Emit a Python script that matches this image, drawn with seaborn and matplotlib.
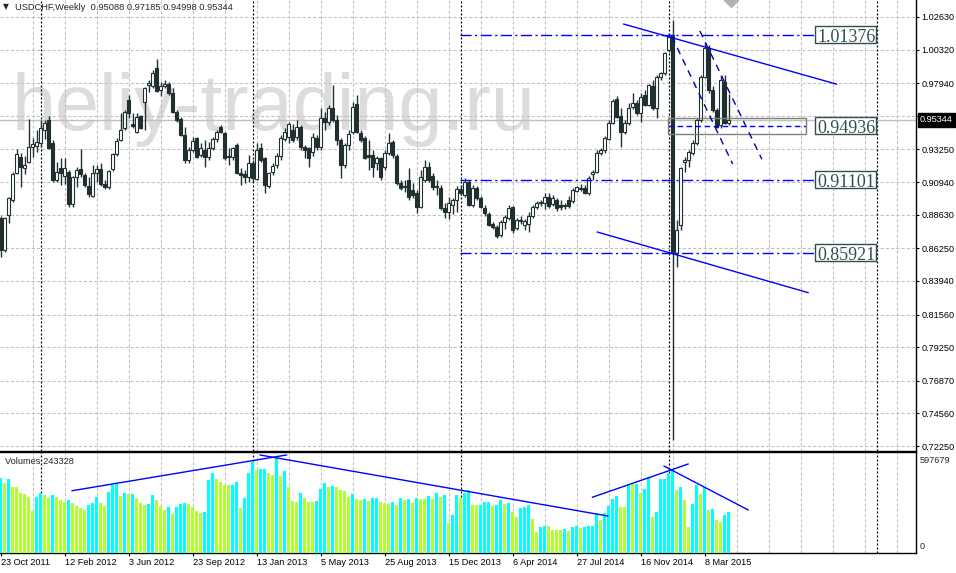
import numpy as np
import pandas as pd
import matplotlib
matplotlib.use('Agg')
import matplotlib.pyplot as plt
import seaborn as sns
from matplotlib.patches import Rectangle

sns.set_style('white')
plt.rcParams['font.family'] = ['Liberation Sans', 'DejaVu Sans']

# USDCHF weekly candles, week of 23 Oct 2011 .. week of 19 Apr 2015
opens = [
    0.8840, 0.8613, 0.8861, 0.8967, 0.9159, 0.9272, 0.9194, 0.9237, 0.9343, 0.9350,
    0.9371, 0.9463, 0.9534, 0.9371, 0.9109, 0.9194, 0.9137, 0.9166, 0.8939, 0.9130,
    0.9187, 0.9144, 0.9067, 0.8996, 0.9159, 0.9187, 0.9081, 0.9059, 0.9187, 0.9293,
    0.9392, 0.9477, 0.9675, 0.9506, 0.9449, 0.9562, 0.9661, 0.9782, 0.9775, 0.9902,
    0.9746, 0.9775, 0.9789, 0.9725, 0.9590, 0.9541, 0.9428, 0.9251, 0.9321, 0.9406,
    0.9286, 0.9321, 0.9272, 0.9336, 0.9399, 0.9484, 0.9442, 0.9272, 0.9272, 0.9357,
    0.9159, 0.9152, 0.9130, 0.9229, 0.9116, 0.9336, 0.9265, 0.9067, 0.9166, 0.9215,
    0.9279, 0.9399, 0.9413, 0.9463, 0.9413, 0.9484, 0.9343, 0.9336, 0.9307, 0.9406,
    0.9343, 0.9548, 0.9520, 0.9619, 0.9534, 0.9392, 0.9215, 0.9357, 0.9449, 0.9647,
    0.9442, 0.9406, 0.9286, 0.9286, 0.9229, 0.9265, 0.9201, 0.9300, 0.9378, 0.9279,
    0.9088, 0.9067, 0.9109, 0.9038, 0.9017, 0.8918, 0.9109, 0.9201, 0.9137, 0.9067,
    0.9052, 0.8911, 0.8882, 0.8932, 0.8967, 0.9045, 0.9003, 0.9095, 0.8932, 0.9052,
    0.8982, 0.8911, 0.8868, 0.8797, 0.8776, 0.8720, 0.8812, 0.8840, 0.8918, 0.8769,
    0.8819, 0.8790, 0.8797, 0.8854, 0.8918, 0.8946, 0.8946, 0.8989, 0.8939, 0.8967,
    0.8932, 0.8925, 0.8967, 0.8960, 0.9031, 0.9052, 0.9052, 0.9017, 0.9152, 0.9166,
    0.9300, 0.9321, 0.9399, 0.9513, 0.9682, 0.9562, 0.9449, 0.9513, 0.9626, 0.9654,
    0.9583, 0.9711, 0.9640, 0.9775, 0.9619, 0.9838, 0.9867, 1.0029, 1.0138, 0.8592,
    0.8790, 0.9237, 0.9251, 0.9300, 0.9371, 0.9534, 0.9838, 1.0044, 0.9746, 0.9605,
    0.9498, 0.9803, 0.95088]
highs = [
    0.8854, 0.8847, 0.8989, 0.9166, 0.9329, 0.9300, 0.9279, 0.9541, 0.9406, 0.9463,
    0.9534, 0.9534, 0.9562, 0.9392, 0.9237, 0.9265, 0.9265, 0.9180, 0.9137, 0.9201,
    0.9329, 0.9159, 0.9130, 0.9215, 0.9215, 0.9229, 0.9109, 0.9180, 0.9300, 0.9406,
    0.9583, 0.9605, 0.9711, 0.9583, 0.9583, 0.9569, 0.9767, 0.9817, 0.9888, 0.9966,
    0.9803, 0.9817, 0.9803, 0.9760, 0.9605, 0.9555, 0.9484, 0.9343, 0.9413, 0.9413,
    0.9371, 0.9392, 0.9378, 0.9413, 0.9463, 0.9498, 0.9449, 0.9336, 0.9343, 0.9371,
    0.9194, 0.9180, 0.9286, 0.9251, 0.9371, 0.9371, 0.9272, 0.9166, 0.9229, 0.9300,
    0.9428, 0.9477, 0.9520, 0.9506, 0.9534, 0.9498, 0.9357, 0.9343, 0.9442, 0.9428,
    0.9619, 0.9590, 0.9640, 0.9782, 0.9569, 0.9406, 0.9371, 0.9463, 0.9661, 0.9711,
    0.9463, 0.9421, 0.9392, 0.9321, 0.9279, 0.9272, 0.9321, 0.9442, 0.9392, 0.9293,
    0.9109, 0.9109, 0.9194, 0.9088, 0.9038, 0.9180, 0.9251, 0.9237, 0.9159, 0.9109,
    0.9074, 0.8946, 0.8989, 0.8982, 0.9067, 0.9074, 0.9123, 0.9109, 0.9074, 0.9067,
    0.8996, 0.8932, 0.8882, 0.8812, 0.8790, 0.8826, 0.8861, 0.8932, 0.8925, 0.8840,
    0.8854, 0.8833, 0.8882, 0.8932, 0.8960, 0.8967, 0.9017, 0.9017, 0.9003, 0.8982,
    0.8967, 0.8946, 0.8996, 0.9052, 0.9067, 0.9081, 0.9074, 0.9137, 0.9180, 0.9321,
    0.9336, 0.9421, 0.9534, 0.9682, 0.9704, 0.9619, 0.9534, 0.9654, 0.9725, 0.9675,
    0.9725, 0.9746, 0.9789, 0.9817, 0.9852, 0.9874, 1.0015, 1.0150, 1.0240, 0.8826,
    0.9201, 0.9272, 0.9321, 0.9392, 0.9548, 0.9852, 1.0079, 1.0065, 0.9775, 0.9619,
    0.9852, 0.9852, 0.97185]
lows = [
    0.8564, 0.8599, 0.8805, 0.8953, 0.9152, 0.9059, 0.9152, 0.9229, 0.9272, 0.9307,
    0.9343, 0.9399, 0.9329, 0.9095, 0.9095, 0.9074, 0.9081, 0.8918, 0.8918, 0.9059,
    0.9130, 0.9059, 0.8989, 0.8989, 0.9095, 0.9067, 0.9045, 0.9045, 0.9173, 0.9279,
    0.9385, 0.9463, 0.9548, 0.9477, 0.9442, 0.9470, 0.9463, 0.9732, 0.9760, 0.9732,
    0.9704, 0.9760, 0.9711, 0.9583, 0.9520, 0.9421, 0.9229, 0.9229, 0.9307, 0.9265,
    0.9272, 0.9201, 0.9251, 0.9321, 0.9378, 0.9442, 0.9251, 0.9215, 0.9251, 0.9152,
    0.9074, 0.9088, 0.9095, 0.9095, 0.9109, 0.9237, 0.9017, 0.9052, 0.9144, 0.9194,
    0.9251, 0.9385, 0.9371, 0.9378, 0.9392, 0.9321, 0.9265, 0.9201, 0.9279, 0.9321,
    0.9321, 0.9463, 0.9498, 0.9520, 0.9357, 0.9123, 0.9194, 0.9321, 0.9435, 0.9442,
    0.9378, 0.9258, 0.9180, 0.9130, 0.9180, 0.9109, 0.9180, 0.9286, 0.9265, 0.9074,
    0.9038, 0.9024, 0.8967, 0.8982, 0.8875, 0.8911, 0.9095, 0.9095, 0.9038, 0.9003,
    0.8897, 0.8840, 0.8833, 0.8868, 0.8882, 0.9003, 0.8989, 0.8925, 0.8918, 0.8967,
    0.8911, 0.8854, 0.8783, 0.8762, 0.8698, 0.8706, 0.8762, 0.8826, 0.8734, 0.8755,
    0.8797, 0.8755, 0.8741, 0.8840, 0.8904, 0.8925, 0.8904, 0.8911, 0.8925, 0.8890,
    0.8897, 0.8904, 0.8911, 0.8946, 0.9024, 0.9031, 0.9010, 0.9003, 0.9109, 0.9159,
    0.9286, 0.9300, 0.9392, 0.9506, 0.9548, 0.9343, 0.9435, 0.9498, 0.9612, 0.9569,
    0.9520, 0.9633, 0.9633, 0.9605, 0.9548, 0.9817, 0.9852, 1.0015, 0.7268, 0.8493,
    0.8755, 0.9166, 0.9201, 0.9286, 0.9357, 0.9520, 0.9831, 0.9725, 0.9590, 0.9477,
    0.9477, 0.9506, 0.94998]
closes = [
    0.8613, 0.8840, 0.8982, 0.9152, 0.9293, 0.9201, 0.9215, 0.9343, 0.9364, 0.9378,
    0.9477, 0.9513, 0.9336, 0.9109, 0.9166, 0.9159, 0.9194, 0.8939, 0.9130, 0.9180,
    0.9152, 0.9074, 0.9010, 0.9159, 0.9187, 0.9081, 0.9059, 0.9173, 0.9293, 0.9385,
    0.9463, 0.9590, 0.9583, 0.9491, 0.9555, 0.9477, 0.9760, 0.9796, 0.9867, 0.9739,
    0.9775, 0.9789, 0.9725, 0.9590, 0.9534, 0.9428, 0.9251, 0.9321, 0.9385, 0.9272,
    0.9336, 0.9272, 0.9336, 0.9399, 0.9449, 0.9449, 0.9265, 0.9279, 0.9336, 0.9159,
    0.9144, 0.9130, 0.9229, 0.9123, 0.9321, 0.9251, 0.9074, 0.9159, 0.9208, 0.9279,
    0.9406, 0.9449, 0.9506, 0.9392, 0.9484, 0.9343, 0.9321, 0.9265, 0.9413, 0.9343,
    0.9548, 0.9520, 0.9619, 0.9534, 0.9392, 0.9215, 0.9357, 0.9435, 0.9626, 0.9449,
    0.9392, 0.9265, 0.9272, 0.9201, 0.9265, 0.9130, 0.9300, 0.9371, 0.9286, 0.9088,
    0.9052, 0.9059, 0.8989, 0.9003, 0.8918, 0.9130, 0.9201, 0.9109, 0.9059, 0.9059,
    0.8911, 0.8882, 0.8946, 0.8967, 0.9045, 0.9017, 0.9095, 0.8932, 0.9052, 0.8982,
    0.8918, 0.8875, 0.8790, 0.8776, 0.8713, 0.8812, 0.8847, 0.8911, 0.8755, 0.8826,
    0.8826, 0.8819, 0.8854, 0.8918, 0.8946, 0.8953, 0.8989, 0.8925, 0.8982, 0.8911,
    0.8918, 0.8932, 0.8925, 0.9038, 0.9059, 0.9045, 0.9017, 0.9123, 0.9166, 0.9300,
    0.9321, 0.9406, 0.9513, 0.9668, 0.9555, 0.9449, 0.9513, 0.9619, 0.9654, 0.9583,
    0.9697, 0.9640, 0.9782, 0.9619, 0.9838, 0.9867, 1.0008, 1.0121, 0.8592, 0.8755,
    0.9194, 0.9251, 0.9307, 0.9371, 0.9534, 0.9838, 1.0044, 0.9746, 0.9605, 0.9484,
    0.9817, 0.9513, 0.95344]
volumes = [
    446000, 416000, 440000, 396000, 396000, 357000, 353000, 337000, 253000, 337000,
    361000, 347000, 327000, 347000, 333000, 317000, 307000, 317000, 297000, 281000,
    267000, 257000, 287000, 301000, 333000, 301000, 281000, 367000, 406000, 412000,
    341000, 357000, 353000, 354000, 327000, 301000, 287000, 293000, 347000, 317000,
    281000, 257000, 273000, 233000, 277000, 293000, 297000, 295000, 277000, 253000,
    241000, 247000, 436000, 476000, 440000, 426000, 406000, 404000, 408000, 422000,
    267000, 327000, 476000, 546000, 496000, 500000, 502000, 476000, 466000, 566000,
    460000, 490000, 392000, 313000, 307000, 357000, 327000, 307000, 305000, 313000,
    380000, 416000, 396000, 400000, 396000, 376000, 372000, 333000, 353000, 321000,
    317000, 321000, 313000, 327000, 328000, 307000, 301000, 293000, 307000, 287000,
    327000, 317000, 321000, 301000, 327000, 321000, 320000, 341000, 321000, 361000,
    333000, 347000, 177000, 227000, 347000, 327000, 357000, 376000, 287000, 285000,
    286000, 303000, 307000, 283000, 287000, 317000, 293000, 297000, 247000, 217000,
    267000, 277000, 287000, 201000, 127000, 157000, 161000, 160000, 137000, 137000,
    136000, 141000, 133000, 153000, 161000, 147000, 153000, 161000, 162000, 237000,
    197000, 237000, 281000, 321000, 341000, 277000, 276000, 412000, 411000, 413000,
    357000, 380000, 446000, 217000, 247000, 440000, 441000, 476000, 500000, 376000,
    396000, 317000, 153000, 293000, 406000, 351000, 396000, 257000, 261000, 197000,
    187000, 227000, 243328]

date_labels = ['23 Oct 2011', '12 Feb 2012', '3 Jun 2012', '23 Sep 2012', '13 Jan 2013',
               '5 May 2013', '25 Aug 2013', '15 Dec 2013', '6 Apr 2014', '27 Jul 2014',
               '16 Nov 2014', '8 Mar 2015']
price_ticks = [1.02630, 1.00320, 0.97940, 0.95630, 0.93250, 0.90940, 0.88630, 0.86250,
               0.83940, 0.81560, 0.79250, 0.76870, 0.74560, 0.72250]
year_starts = [10, 63, 115, 167, 219]
levels = [1.01376, 0.91101, 0.85921]
box_level = 0.94936
last_price = 0.95344
vol_max = 597679

# drawn objects (bar index, price / volume)
trend_lines = [([155.7, 209.0], [1.0213, 0.9787]), ([149.1, 201.9], [0.8741, 0.8311])]
channel_lines = [([167.8, 183.0], [1.0124, 0.9222]), ([174.8, 190.3], [1.0164, 0.9256])]
vol_lines = [([17.8, 71.5], [372000, 586000]), ([64.8, 151.8], [586000, 221000]),
             ([147.9, 171.9], [333000, 532000]), ([165.8, 186.9], [520000, 257000])]

dark = '#203030'
blue = '#0000FF'
W, H = 956, 573
px = 0.000708  # price per pixel

fig = plt.figure(figsize=(W / 100, H / 100), dpi=100)
ax = fig.add_axes([0, 1 - 450.5 / H, 916 / W, 450.5 / H])
axv = fig.add_axes([0, 1 - 553 / H, 916 / W, 101 / H])

xmin = -0.17
xmax = xmin + 916 / 4
idx = np.arange(len(closes))
o, h, l, c = map(np.array, (opens, highs, lows, closes))

grid_kw = dict(color='#C0C0C0', lw=0.75, ls=(0, (3, 2)), zorder=1)
sep_kw = dict(color='black', lw=0.9, ls=(0, (1.6, 1.6)), zorder=2)
for a in (ax, axv):
    for b in range(8, 229, 8):
        a.axvline(b, **grid_kw)
    for b in year_starts:
        a.axvline(b, **sep_kw)
for p in price_ticks:
    ax.axhline(p, **grid_kw)

# watermark
ax.text(2.8, 0.9463, 'heliy-trading.ru', fontsize=57, color='#DCDCDC',
        ha='left', va='baseline', zorder=0.5)

ax.axhline(last_price, color='#C0C0C0', lw=1, zorder=2)

# candles
up = c >= o
ax.vlines(idx, l, h, color=dark, lw=1, zorder=3)
body_lo = np.minimum(o, c)
body_h = np.maximum(np.abs(c - o), 0.0003)
ax.bar(idx, body_h, bottom=body_lo, width=0.62, color=np.where(up, 'white', dark),
       edgecolor=dark, linewidth=0.8, zorder=4)

# horizontal levels with labels
lvl_x0, lvl_x1 = 114.8, 203.6
box_x1 = 218.8
half = 8.5 * px
for lv in levels + [box_level]:
    if lv == box_level:
        ax.plot([166.8, 201.3], [lv, lv], color=blue, lw=1, ls=(0, (4, 2.5)), zorder=5)
        ax.add_patch(Rectangle((166.8, 0.9435), 201.3 - 166.8, 0.9546 - 0.9435,
                               fill=False, edgecolor='#808080', lw=1, zorder=5))
    else:
        ax.plot([lvl_x0, lvl_x1], [lv, lv], color=blue, lw=1,
                ls=(0, (8, 2.5, 1.5, 2.5)), zorder=5)
    ax.add_patch(Rectangle((lvl_x1, lv - half), box_x1 - lvl_x1, 2 * half,
                           facecolor='white', edgecolor='#2F4F4F', lw=1, zorder=6))
    ax.text(lvl_x1 + 0.5, lv - 7 * px, f'{lv:.5f}', family=['Liberation Serif'],
            fontsize=13, color='#2F4F4F', ha='left', va='baseline', zorder=7)

for xs, ys in trend_lines:
    ax.plot(xs, ys, color=blue, lw=1, zorder=5)
for xs, ys in channel_lines:
    ax.plot(xs, ys, color='#0000B0', lw=1, ls=(0, (5, 4)), zorder=5)

ax.plot([182.6], [1.0383], marker='D', ms=7, color='#B4B4B4', zorder=6)

ax.set_xlim(xmin, xmax)
ax.set_ylim(0.7194, 1.0383)
ax.set_xticks([])
ax.yaxis.tick_right()
ax.set_yticks(price_ticks)
ax.set_yticklabels([f'{t:.5f}' for t in price_ticks])
ax.tick_params(axis='y', length=2.2, width=0.8, pad=1.5, labelsize=6.6, colors='black')
for s in ('left', 'top'):
    ax.spines[s].set_visible(False)
for s in ('right', 'bottom'):
    ax.spines[s].set_color('black')
    ax.spines[s].set_linewidth(1)

ax.text(1.0045, last_price, f'{last_price:.5f}', transform=ax.get_yaxis_transform(),
        ha='left', va='center', fontsize=6.6, color='white', zorder=10, clip_on=False,
        bbox=dict(facecolor='black', edgecolor='black', pad=1.6))

# volumes
vol = np.array(volumes)
rising = np.r_[True, vol[1:] > vol[:-1]]
vdf = pd.DataFrame({'bar': idx, 'volume': vol, 'dir': np.where(rising, 'up', 'down')})
sns.barplot(data=vdf, x='bar', y='volume', hue='dir',
            palette={'up': '#00FFFF', 'down': '#ADFF2F'}, native_scale=True,
            width=0.8, dodge=False, saturation=1, errorbar=None, legend=False,
            linewidth=0, ax=axv, zorder=3)
for xs, ys in vol_lines:
    axv.plot(xs, ys, color=blue, lw=1, zorder=5)

axv.set_xlim(xmin, xmax)
axv.set_ylim(0, vol_max * 1.01)
axv.set_xlabel('')
axv.set_ylabel('')
axv.set_yticks([])
axv.set_xticks(idx[::16][:len(date_labels)])
axv.set_xticklabels(date_labels, ha='left')
axv.tick_params(axis='x', length=2.2, width=0.8, pad=1.5, labelsize=6.6, colors='black',
                bottom=True)
axv.spines['left'].set_visible(False)
for s in ('right', 'bottom', 'top'):
    axv.spines[s].set_color('black')
    axv.spines[s].set_linewidth(1)
axv.text(1.0045, 0.92, f'{vol_max}', transform=axv.transAxes, ha='left', va='center',
         fontsize=6.6)
axv.text(1.0045, 0.06, '0', transform=axv.transAxes, ha='left', va='center', fontsize=6.6)

fig.text(3 / W, 1 - 7 / H, '\u25bc', fontsize=5.5, ha='left', va='center', family=['DejaVu Sans'])
fig.text(15 / W, 1 - 7.5 / H, 'USDCHF,Weekly  0.95088 0.97185 0.94998 0.95344',
         fontsize=6.7, ha='left', va='center')
fig.text(5 / W, 1 - 461 / H, 'Volumes 243328', fontsize=6.7, ha='left', va='center')

fig.savefig('out.png', dpi=100)
